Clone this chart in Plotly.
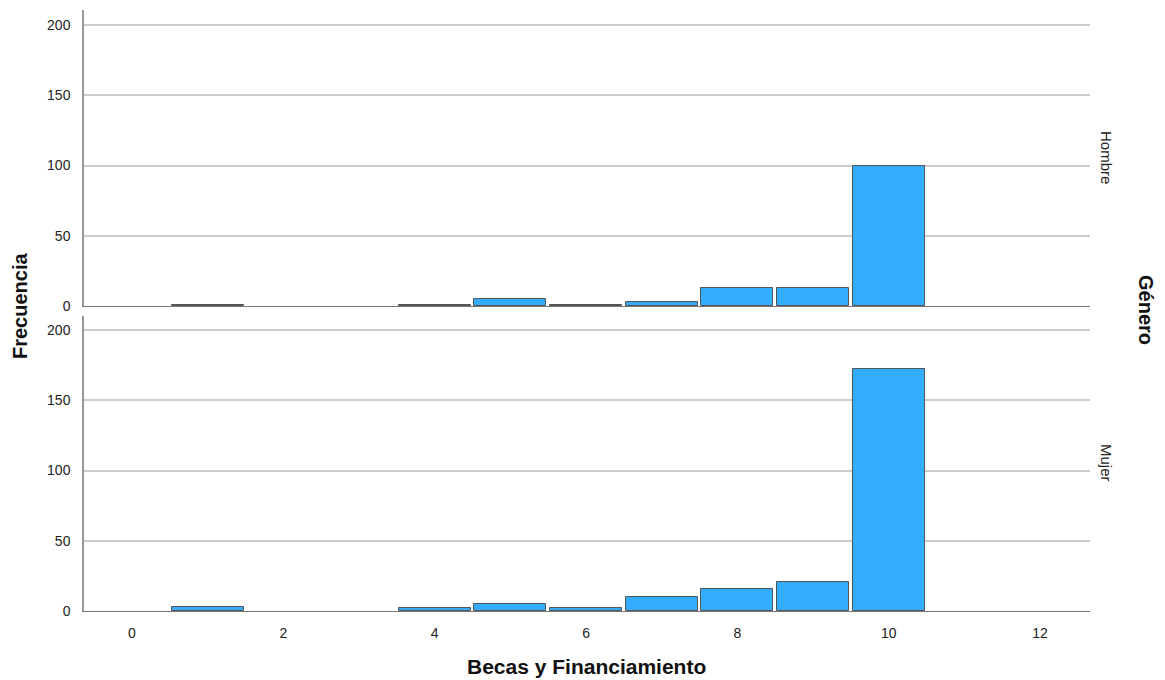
import plotly.graph_objects as go
from plotly.subplots import make_subplots

categories = [1, 4, 5, 6, 7, 8, 9, 10]
hombre = [1, 1, 5, 1, 3, 13, 13, 100]
mujer = [3, 2, 5, 2, 10, 16, 21, 172]
panel_labels = ["Hombre", "Mujer"]
x_ticks = [0, 2, 4, 6, 8, 10, 12]
y_ticks = [0, 50, 100, 150, 200]

BAR = "#33adff"
EDGE = "#555555"
FONT = "Liberation Sans, Arial, sans-serif"

fig = make_subplots(rows=2, cols=1, shared_xaxes=True, vertical_spacing=0.0)

for i, vals in enumerate([hombre, mujer]):
    fig.add_trace(go.Bar(x=categories, y=vals, width=0.95,
                         marker=dict(color=BAR, line=dict(color=EDGE, width=1)),
                         showlegend=False, hoverinfo="x+y"), row=i + 1, col=1)

top_px, bot_px = 10, 611
ph = bot_px - top_px

def frac(p):
    return (bot_px - p) / ph

fig.update_layout(
    width=1165, height=680,
    margin=dict(l=84, r=75, t=10, b=69),
    plot_bgcolor="white", paper_bgcolor="white",
    font=dict(family=FONT, size=14, color="#222"),
    bargap=0,
)

xr = [-0.634, 12.66]
for ax in ["xaxis", "xaxis2"]:
    fig.layout[ax].update(range=xr, tickvals=x_ticks, showgrid=False, zeroline=False,
                          showline=True, linecolor="#777", linewidth=1.2, ticks="",
                          tickfont=dict(size=14, color="#222"))
fig.layout.xaxis.update(showticklabels=False)
fig.layout.xaxis2.update(showticklabels=True, ticklabelstandoff=9)

fig.layout.yaxis.update(domain=[frac(306), 1.0], range=[0, 210.7])
fig.layout.yaxis2.update(domain=[0.0, frac(316)], range=[0, 210.0])
for ax in ["yaxis", "yaxis2"]:
    fig.layout[ax].update(tickvals=y_ticks, showgrid=True, gridcolor="#cccccc", gridwidth=1.5,
                          zeroline=False, showline=True, linecolor="#999", linewidth=1.5,
                          ticks="", ticklabelstandoff=9, tickfont=dict(size=14, color="#222"))

ann = []
ann.append(dict(text="<b>Frecuencia</b>", x=20, y=306, textangle=-90, showarrow=False,
                font=dict(size=20, color="#111")))
ann.append(dict(text="<b>Becas y Financiamiento</b>", x=586, y=666, showarrow=False,
                font=dict(size=21, color="#111")))
ann.append(dict(text="<b>Género</b>", x=1146, y=310, textangle=90, showarrow=False,
                font=dict(size=20, color="#111")))
ann.append(dict(text=panel_labels[0], x=1107, y=157, textangle=90, showarrow=False,
                font=dict(size=15, color="#222")))
ann.append(dict(text=panel_labels[1], x=1107, y=463, textangle=90, showarrow=False,
                font=dict(size=15, color="#222")))

pw = 1165 - 84 - 75
out = []
for a in ann:
    a = dict(a)
    a["xref"] = "paper"; a["yref"] = "paper"
    a["x"] = (a["x"] - 84) / pw
    a["y"] = (bot_px - a["y"]) / ph
    a["xanchor"] = "center"; a["yanchor"] = "middle"
    out.append(a)
fig.update_layout(annotations=out)

fig.write_html("out.html", config={"displayModeBar": False},
               post_script="document.body.style.margin='0';document.body.style.overflow='hidden';")
